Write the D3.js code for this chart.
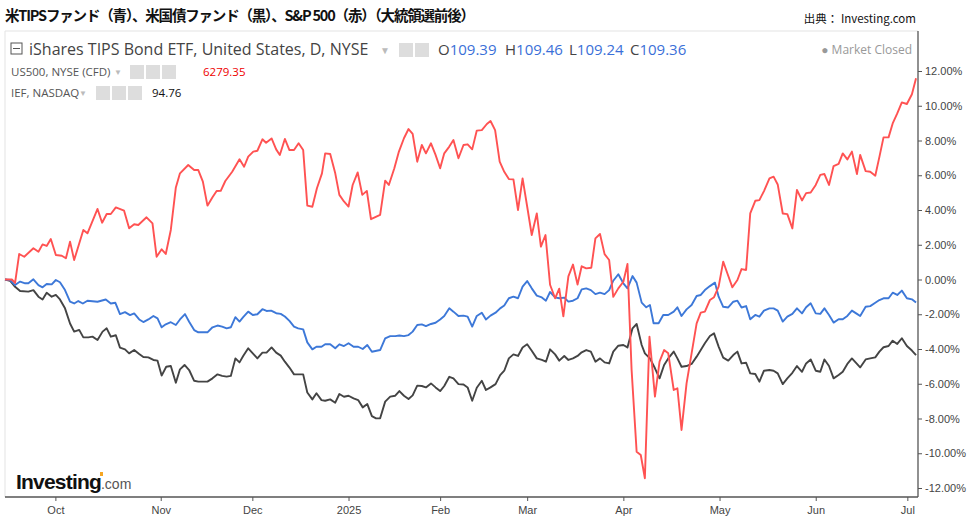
<!DOCTYPE html>
<html><head><meta charset="utf-8">
<script src="https://cdn.jsdelivr.net/npm/d3@7"></script>
<style>body{margin:0;background:#fff}svg{display:block}</style>
</head><body><svg id="c" width="971" height="522"></svg>
<script>
// Trading-day index (0 = 2024-09-16) and % change
const sp500 = [[0,0],[1.5,0],[2.2,-0.2],[3.1,1.47],[4.2,1.31],[6.2,1.8],[7.3,1.6],[8.2,2.02],[9.1,1.93],[10,2.33],[11.1,1.41],[12.4,1.37],[13.3,1.22],[14.2,2.18],[15.1,1.12],[17.1,2.85],[18,2.66],[20.2,4.06],[21.2,3.27],[22.2,3.77],[23.1,3.77],[24.2,4.15],[26,3.96],[27.1,2.95],[28.2,3.18],[29.1,3.14],[30.9,3.58],[32.2,3.23],[33.1,1.31],[34.2,1.74],[35.1,1.47],[36.2,2.85],[37.3,5.3],[38.2,6.11],[40,6.59],[41.3,6.3],[42.2,6.3],[43.2,5.63],[44.2,4.25],[45.3,4.73],[46.2,5.09],[47.1,5.1],[48.1,5.67],[49.6,6.2],[51.2,6.92],[52.2,6.49],[53.1,7.07],[54.2,7.36],[55.1,7.41],[56.2,8.07],[57,7.87],[58.2,8.12],[59.2,7.49],[60,7.17],[61.1,8.09],[62.1,7.45],[63.1,7.45],[64.1,7.84],[65.1,7.45],[66,4.25],[67.1,4.19],[68.1,5.25],[69.2,6.11],[69.9,7.26],[71,7.22],[72.1,6.11],[73,4.87],[74,4.49],[75,4.2],[75.9,5.44],[77,6.16],[78,4.87],[79,5.1],[79.9,3.47],[81.9,3.72],[83,5.69],[83.8,5.44],[85,6.4],[86,7.36],[87.1,8.13],[88.1,8.66],[89,8.38],[90,6.78],[91,7.74],[91.9,7.26],[93,7.84],[94,7.17],[95,6.4],[95.9,7.26],[97,7.65],[97.9,8.03],[99,6.98],[100.1,7.74],[101,7.78],[102,7.49],[103,8.57],[104.1,8.6],[105.2,8.95],[106,9.12],[107,8.6],[108,6.78],[109,6.2],[110,5.78],[111,5.76],[112,4.0],[113,5.82],[114,4.2],[115,2.56],[116.1,3.8],[117,1.89],[118,2.56],[119,-0.3],[120.1,-1.08],[121,-0.53],[121.9,-2.12],[123,0.18],[124,0.86],[125,-0.29],[125.9,0.76],[126.9,0.64],[128,0.68],[128.9,2.37],[129.9,2.62],[130.9,1.46],[131.9,1.12],[132.8,-1.0],[133.9,-0.51],[135,-0.13],[135.9,0.89],[136.8,-5.2],[137.9,-9.91],[138.8,-10.1],[139.7,-11.44],[140.7,-3.29],[141.9,-6.74],[142.9,-4.73],[143.9,-4.06],[144.8,-4.25],[146,-6.36],[146.8,-6.26],[147.7,-8.66],[148.8,-5.98],[149.9,-4.25],[151,-2.53],[151.9,-1.91],[152.8,-1.85],[153.9,-1.18],[154.8,-1.02],[155.8,-0.41],[156.8,1.03],[157.7,0.36],[158.8,-0.45],[159.9,-0.03],[160.8,0.6],[161.8,0.55],[162.7,3.8],[163.8,4.53],[164.7,4.57],[165.7,5.09],[166.9,5.82],[167.8,5.92],[168.7,5.47],[169.8,3.8],[170.8,3.76],[171.9,2.94],[172.9,5.16],[174,4.55],[174.9,4.97],[175.9,5.01],[177,5.44],[178,6.02],[178.9,6.07],[179.9,5.44],[180.9,6.53],[182,6.65],[182.9,7.26],[183.9,6.91],[184.9,7.36],[186,6.07],[186.7,7.17],[187.9,6.24],[188.9,6.2],[190,5.97],[190.9,7.06],[191.8,8.18],[192.9,8.18],[193.8,8.98],[194.8,9.56],[195.8,10.19],[196.9,10.1],[198,10.66],[198.9,11.58]];
const tip = [[0,0],[1.1,-0.03],[2.2,-0.32],[3.3,-0.12],[4.4,-0.22],[5.1,-0.22],[6.2,0.01],[7.3,-0.32],[8.2,-0.45],[9.1,-0.26],[10.2,-0.28],[11.1,-0.03],[12,-0.16],[13.1,-0.61],[14.2,-1.28],[15.1,-1.38],[16,-1.24],[17,-1.38],[18,-1.22],[20.2,-1.28],[22,-1.15],[23.1,-1.38],[24.1,-1.34],[25.1,-1.99],[26.2,-1.88],[27.3,-2.05],[28.2,-1.95],[29.3,-2.3],[30.2,-2.45],[31.3,-2.3],[32.4,-2.1],[33.3,-2.24],[34.2,-2.75],[35.1,-2.58],[36.2,-2.46],[37.3,-2.62],[38.2,-2.3],[39.3,-1.99],[40.2,-2.43],[41.3,-2.91],[42.2,-3.04],[44.2,-3.04],[45.3,-2.75],[46.4,-2.65],[47.4,-2.71],[48.4,-2.81],[49.3,-2.75],[50.3,-2.17],[51.2,-2.42],[52,-2.17],[53.1,-1.85],[54.1,-2.04],[55.1,-2.0],[56.2,-1.71],[57.1,-1.81],[58.1,-1.79],[59.2,-1.94],[60.2,-1.98],[61.1,-2.13],[62.1,-2.38],[63.1,-2.71],[64,-2.81],[65.1,-2.87],[66,-3.62],[67.1,-4.02],[68,-3.87],[69.1,-3.87],[69.9,-3.73],[71,-3.73],[72.1,-3.96],[73,-3.73],[74,-3.83],[75,-3.67],[76.1,-3.87],[77.1,-3.87],[78.1,-4.0],[79.1,-3.77],[80.1,-4.16],[81.9,-4.06],[83,-3.39],[84.1,-3.26],[85.2,-3.26],[86.1,-3.22],[87.1,-3.26],[88.1,-3.2],[89,-3.0],[90,-2.62],[91,-2.58],[91.9,-2.68],[93,-2.56],[94,-2.49],[95,-2.3],[95.9,-2.1],[97,-1.66],[97.9,-1.85],[99,-2.1],[100.1,-2.08],[101,-2.14],[102,-2.71],[103,-2.1],[104.1,-1.91],[105,-2.3],[106,-2.08],[107.1,-1.91],[108.1,-1.66],[109,-1.5],[110,-1.08],[111,-0.99],[112,-1.08],[113,-0.41],[114,-0.09],[115,-0.51],[116.1,-0.93],[117.2,-1.03],[118.1,-1.22],[119,-0.72],[120.1,-1.03],[121,-1.08],[122.1,-1.04],[123,-1.27],[124,-1.22],[125,-1.08],[125.9,-0.57],[126.9,-0.51],[127.9,-0.61],[128.9,-0.84],[129.9,-0.76],[130.9,-0.84],[131.9,-0.61],[132.8,-0.07],[133.9,0.3],[135,-0.22],[135.9,-0.51],[137,0.2],[137.9,-0.18],[139,-1.33],[140,-1.6],[140.8,-1.47],[141.6,-2.52],[142.7,-2.52],[143.7,-2.04],[144.8,-2.04],[146,-1.85],[146.8,-1.6],[147.7,-2.1],[148.8,-1.72],[149.9,-1.47],[151,-0.95],[151.9,-0.89],[152.8,-0.61],[153.9,-0.38],[155,-0.18],[155.8,-0.99],[156.8,-1.57],[157.9,-1.61],[159,-1.28],[159.9,-1.22],[160.8,-1.61],[161.8,-1.53],[162.7,-2.29],[163.8,-2.04],[164.7,-2.14],[165.7,-1.79],[166.9,-1.66],[167.8,-1.66],[168.7,-1.79],[169.8,-2.42],[170.8,-2.14],[171.9,-1.98],[172.9,-1.66],[174,-1.95],[174.9,-1.6],[175.9,-1.37],[177,-1.95],[178,-1.98],[178.9,-1.66],[179.9,-2.04],[180.9,-2.48],[182,-2.29],[182.9,-2.29],[183.9,-2.1],[184.9,-1.79],[186,-1.98],[186.7,-2.1],[187.9,-1.57],[188.9,-1.53],[190,-1.34],[190.9,-1.18],[191.8,-1.08],[192.9,-1.08],[193.8,-0.76],[194.8,-0.89],[195.8,-0.64],[196.9,-1.08],[198,-1.14],[198.9,-1.33]];
const ief = [[0,0],[1.1,-0.07],[2.2,-0.42],[3.3,-0.66],[5.1,-0.7],[6.2,-0.61],[7.3,-0.99],[8.2,-1.15],[9.1,-0.76],[10.2,-0.99],[11.1,-0.89],[12,-1.15],[13.1,-1.66],[14.2,-2.53],[15.1,-3.0],[16.2,-2.9],[17.1,-3.33],[18.2,-3.33],[19.1,-3.29],[20.2,-3.48],[21.3,-3.0],[22.2,-2.81],[23.1,-3.29],[24.2,-3.21],[25.1,-3.92],[26.2,-4.02],[27.1,-4.25],[28.2,-4.06],[29.3,-4.29],[30.2,-4.46],[31.3,-4.48],[32.4,-4.63],[33.3,-4.67],[34.2,-5.53],[35.2,-5.02],[36.2,-4.98],[37.3,-5.94],[38.2,-5.17],[39.2,-4.92],[40.2,-5.21],[41.3,-5.83],[42.2,-5.88],[44.2,-5.88],[45.3,-5.69],[46.4,-5.46],[47.4,-5.55],[48.4,-5.59],[49.3,-5.55],[50.3,-4.54],[51.2,-4.77],[52,-4.4],[53.1,-3.96],[54.1,-4.25],[55.1,-4.54],[56.2,-4.21],[57.1,-4.21],[58.2,-3.91],[59.2,-4.21],[60.2,-4.38],[61.1,-4.73],[62.1,-5.07],[63.1,-5.46],[65.1,-5.46],[66,-6.5],[67.1,-6.9],[68,-6.55],[69.1,-6.94],[69.9,-6.98],[71,-6.9],[72.1,-7.09],[73,-6.59],[74,-6.75],[75,-6.69],[76.1,-6.84],[77.1,-6.94],[78.1,-7.36],[79.1,-7.17],[80.1,-7.86],[81,-7.99],[81.9,-7.99],[83,-7.03],[84.1,-6.74],[85.2,-6.69],[86.1,-6.42],[87.1,-6.69],[88.1,-6.88],[89,-6.67],[90,-6.11],[91,-6.13],[91.9,-6.21],[93,-5.98],[94,-6.21],[95,-6.42],[95.9,-6.13],[97,-5.6],[97.9,-5.69],[99,-6.02],[100.1,-6.04],[101,-6.21],[102,-6.98],[103,-6.23],[104.1,-5.83],[105,-6.36],[106,-6.21],[107.1,-6.02],[108.1,-5.5],[109,-5.25],[110,-4.54],[111,-4.31],[112,-4.4],[113,-3.91],[114,-3.73],[115,-4.1],[116.1,-4.54],[117.2,-4.63],[118.1,-4.73],[119,-4.02],[120.1,-4.31],[121,-4.67],[122.1,-4.4],[123,-4.63],[124,-4.54],[125,-4.4],[125.9,-4.19],[126.9,-4.06],[127.9,-4.15],[128.9,-4.73],[129.9,-4.54],[130.9,-4.77],[131.9,-4.83],[132.8,-4.15],[133.9,-3.81],[135,-3.77],[135.9,-3.91],[137,-2.81],[137.9,-2.56],[139,-3.77],[139.7,-4.25],[140.8,-4.54],[141.9,-5.11],[142.9,-5.69],[143.9,-4.92],[144.8,-4.54],[146,-4.15],[146.8,-4.54],[147.7,-5.02],[148.8,-4.98],[149.9,-4.86],[151,-4.44],[151.9,-4.06],[152.8,-3.67],[153.9,-3.25],[154.8,-3.1],[155.8,-3.86],[156.8,-4.5],[157.9,-4.67],[159,-4.35],[159.9,-4.15],[160.8,-4.83],[161.8,-4.79],[162.7,-5.4],[163.8,-5.44],[164.7,-5.88],[165.7,-5.25],[166.9,-5.21],[167.8,-5.25],[168.7,-5.4],[169.8,-6.02],[170.8,-5.69],[171.9,-5.37],[172.9,-4.98],[174,-5.31],[174.9,-4.83],[175.9,-4.6],[177,-5.25],[178,-5.31],[178.9,-4.6],[179.9,-4.98],[180.9,-5.69],[182,-5.5],[182.9,-5.31],[183.9,-4.86],[184.9,-4.54],[186,-4.86],[186.7,-5.06],[187.9,-4.6],[188.9,-4.54],[190,-4.48],[190.9,-4.15],[191.8,-3.9],[192.9,-3.83],[193.8,-3.52],[194.8,-3.71],[195.8,-3.38],[196.9,-3.83],[198,-4.09],[198.9,-4.35]];
const yTicks = [12,10,8,6,4,2,0,-2,-4,-6,-8,-10,-12];
const holidays = ["2024-11-28","2024-12-25","2025-01-01","2025-01-09","2025-01-20","2025-02-17","2025-04-18","2025-05-26","2025-06-19"];
const monthNames = ["Jan","Feb","Mar","Apr","May","Jun","Jul","Aug","Sep","Oct","Nov","Dec"];

// trading calendar
const fmt = d3.timeFormat("%Y-%m-%d");
const days = d3.timeDays(new Date(2024,8,16), new Date(2025,6,4))
  .filter(d => d.getDay()!==0 && d.getDay()!==6 && !holidays.includes(fmt(d)));
const monthTicks = [];
days.forEach((d,i)=>{ if(i>0 && d.getMonth()!==days[i-1].getMonth()) monthTicks.push({i, label: d.getMonth()===0 ? String(d.getFullYear()) : monthNames[d.getMonth()]}); });

const svg = d3.select("#c");
const x = d3.scaleLinear().domain([0, days.length-1]).range([5, 916.5]);
const y = d3.scaleLinear().domain([-12, 12]).range([488, 71]);
const L=5, R=918, T=31, B=497;

// title
svg.append("text").attr("x",5).attr("y",21).attr("font-family","'Noto Sans CJK JP'").attr("font-size",14.5).attr("font-weight","bold").attr("fill","#111")
  .attr("textLength",470).text("米TIPSファンド（青）、米国債ファンド（黒）、S&P 500（赤）（大統領選前後）");
svg.append("text").attr("x",916).attr("y",23).attr("text-anchor","end").attr("font-family","'Noto Sans CJK JP'").attr("font-size",11.5).attr("fill","#111").text("出典： Investing.com");

// frame
svg.append("line").attr("x1",L).attr("x2",R).attr("y1",T).attr("y2",T).attr("stroke","#e3e3e3");
svg.append("line").attr("x1",L).attr("x2",L).attr("y1",T).attr("y2",B).attr("stroke","#e3e3e3");
svg.append("line").attr("x1",R).attr("x2",R).attr("y1",T).attr("y2",B).attr("stroke","#555").attr("stroke-width",1.3);
svg.append("line").attr("x1",L).attr("x2",R).attr("y1",B).attr("y2",B).attr("stroke","#555").attr("stroke-width",1.3);

// y axis
const ya = svg.append("g").attr("transform",`translate(${R},0)`).call(d3.axisRight(y).tickValues(yTicks).tickSize(4).tickFormat(v=>v.toFixed(2)+"%"));
ya.select(".domain").remove();
ya.selectAll("line").attr("stroke","#555");
ya.selectAll("text").attr("font-family","Arial, 'Liberation Sans'").attr("font-size",11).attr("fill","#444");

// x axis
const xa = svg.append("g").attr("transform",`translate(0,${B})`).call(d3.axisBottom(x).tickValues(monthTicks.map(m=>m.i)).tickSize(4).tickFormat((v,k)=>monthTicks[k].label));
xa.select(".domain").remove();
xa.selectAll("line").attr("stroke","#555");
xa.selectAll("text").attr("font-family","Arial, 'Liberation Sans'").attr("font-size",11).attr("fill","#444").attr("dy","0.9em");

// lines
const line = d3.line().x(d=>x(d[0])).y(d=>y(d[1]));
[[ief,"#444"],[tip,"#3d78d8"],[sp500,"#ff5252"]].forEach(([s,c])=>{
  svg.append("path").datum(s).attr("d",line).attr("fill","none").attr("stroke",c).attr("stroke-width",1.9).attr("stroke-linejoin","round");
});

// legend
const F="'Open Sans', Arial, sans-serif";
const g = svg.append("g").attr("font-family",F);
g.append("rect").attr("x",11).attr("y",43).attr("width",11).attr("height",11).attr("fill","none").attr("stroke","#555");
g.append("line").attr("x1",13).attr("x2",20).attr("y1",48.5).attr("y2",48.5).attr("stroke","#555");
g.append("text").attr("x",29).attr("y",55).attr("font-size",16).attr("fill","#444").text("iShares TIPS Bond ETF, United States, D, NYSE");
g.append("text").attr("x",380).attr("y",54).attr("font-size",10).attr("fill","#bbb").text("▼");
function icons(x0,yy,n){ for(let k=0;k<n;k++) g.append("rect").attr("x",x0+k*16).attr("y",yy).attr("width",14).attr("height",14).attr("fill","#ddd"); }
icons(399,43,2);
const ohlc=[["O","109.39",438],["H","109.46",505],["L","109.24",569],["C","109.36",630]];
ohlc.forEach(([k,v,xx])=>{ const t=g.append("text").attr("x",xx).attr("y",55).attr("font-size",15); t.append("tspan").attr("fill","#444").text(k); t.append("tspan").attr("fill","#3a6fd8").text(v); });
g.append("text").attr("x",912).attr("y",54).attr("text-anchor","end").attr("font-size",12).attr("fill","#999").text("● Market Closed");
g.append("text").attr("x",11).attr("y",76).attr("font-size",11.5).attr("fill","#555").text("US500, NYSE (CFD)");
g.append("text").attr("x",114).attr("y",75).attr("font-size",8).attr("fill","#bbb").text("▼");
icons(130,65,3);
g.append("text").attr("x",203).attr("y",76).attr("font-size",11.5).attr("fill","#e00").text("6279.35");
g.append("text").attr("x",11).attr("y",97).attr("font-size",11.5).attr("fill","#555").text("IEF, NASDAQ");
g.append("text").attr("x",79).attr("y",96).attr("font-size",8).attr("fill","#bbb").text("▼");
icons(96,86,3);
g.append("text").attr("x",152).attr("y",97).attr("font-size",11.5).attr("fill","#111").text("94.76");

// logo
const lg = svg.append("text").attr("x",16).attr("y",489).attr("font-family","Arial, 'Liberation Sans'");
lg.append("tspan").attr("font-size",21).attr("font-weight","bold").attr("fill","#111").attr("letter-spacing",-0.8).text("Investing");
lg.append("tspan").attr("font-size",14).attr("fill","#555").text(".com");
svg.append("rect").attr("x",100).attr("y",472).attr("width",3).attr("height",4).attr("fill","#f5a623");
</script></body></html>
